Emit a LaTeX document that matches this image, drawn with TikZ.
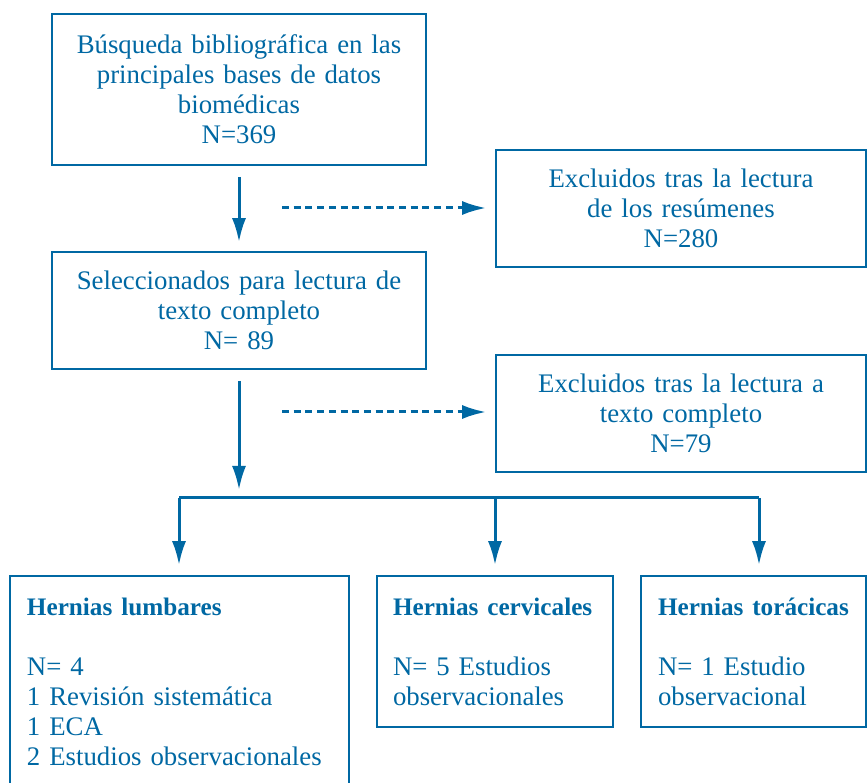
\documentclass[tikz,border=0pt]{standalone}
\usepackage{fontspec}
\setmainfont{Liberation Serif}
\usetikzlibrary{arrows.meta}
\definecolor{flowblue}{RGB}{0,104,163}
\newcommand{\mylw}{1.6pt}
\newcommand{\headtxt}[1]{\mbox{\fontsize{25.2}{30}\selectfont\bfseries #1}}
\tikzset{
    node style box/.style={draw=flowblue,line width=\mylw,rectangle,text=flowblue,align=center,
                           font=\fontsize{26.8}{30}\selectfont,inner sep=0pt},
    node style list/.style={node style box,align=left},
    arrow style main/.style={draw=flowblue,line width=3pt,-{Latex[length=24pt,width=14pt]}},
    arrow style dot/.style={draw=flowblue,line width=3pt,dash pattern=on 7pt off 4.7pt,
                            -{Latex[length=24pt,width=14pt]}},
    arrow style tree/.style={draw=flowblue,line width=3pt},
}

\begin{document}
\begin{tikzpicture}[x=1pt,y=-1pt]
\useasboundingbox (0,0) rectangle (868,783);

% main column
\node (busq) [node style box,minimum width=374pt,minimum height=151pt,text width=370pt] at (239,89.5)
    {Búsqueda bibliográfica en las\\principales bases de datos\\biomédicas\\N=369};
\node (selec) [node style box,minimum width=374pt,minimum height=117pt,text width=370pt] at (239,310.5)
    {Seleccionados para lectura de\\texto completo\\N= 89};

% excluded
\node (excl1) [node style box,minimum width=370pt,minimum height=117pt,text width=366pt] at (681,208.5)
    {Excluidos tras la lectura\\de los resúmenes\\N=280};
\node (excl2) [node style box,minimum width=370pt,minimum height=117pt,text width=366pt] at (681,413.5)
    {Excluidos tras la lectura a\\texto completo\\N=79};

% results
\node (lumb) [node style list,minimum width=339pt,minimum height=212pt,text width=305pt] at (179.5,682)
    {\headtxt{Hernias lumbares}\\[30pt]N= 4\\1 Revisión sistemática\\1 ECA\\2 Estudios observacionales};
\node (cerv) [node style list,minimum width=236pt,minimum height=151pt,text width=204pt] at (495,651.5)
    {\headtxt{Hernias cervicales}\\[30pt]N= 5 Estudios\\observacionales};
\node (tora) [node style list,minimum width=225pt,minimum height=151pt,text width=191pt] at (753.5,651.5)
    {\headtxt{Hernias torácicas}\\[30pt]N= 1 Estudio\\observacional};

\coordinate (dot1) at (282,208);
\coordinate (dot2) at (282,412);
\coordinate (stop) at (239,490);
\coordinate (bl) at (179,498);
\coordinate (br) at (759,498);

\draw [arrow style main,shorten <=11pt,shorten >=9pt] (busq.south) -- (selec.north);
\draw [arrow style main,shorten <=11pt] (selec.south) -- (stop);
\draw [arrow style dot,shorten >=9pt] (dot1) -- (dot1 -| excl1.west);
\draw [arrow style dot,shorten >=9pt] (dot2) -- (dot2 -| excl2.west);

\draw [arrow style tree] (bl) -- (br);
\draw [arrow style main,shorten >=10pt] (bl) -- (bl |- lumb.north);
\draw [arrow style main,shorten >=10pt] (cerv.north |- bl) -- (cerv.north);
\draw [arrow style main,shorten >=10pt] (br) -- (br |- tora.north);

\end{tikzpicture}
\end{document}
